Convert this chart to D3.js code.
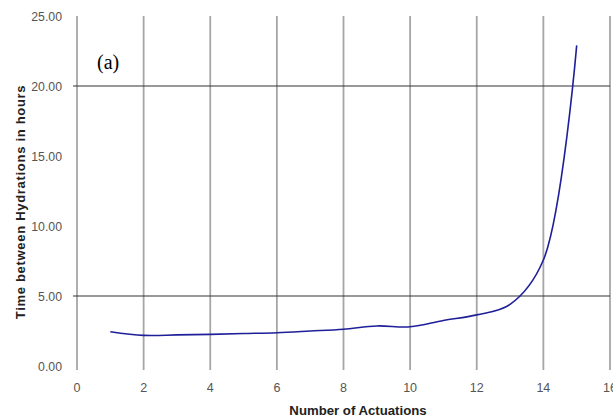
<!DOCTYPE html>
<html>
<head>
<meta charset="utf-8">
<script src="https://cdn.jsdelivr.net/npm/d3@7"></script>
<style>
  body { margin: 0; background: #fff; }
  svg { display: block; }
</style>
</head>
<body>
<div id="chart"></div>
<script>
const actuations = [1, 2, 3, 4, 5, 6, 7, 8, 9, 10, 11, 12, 13, 14, 15];
const hours = [2.45, 2.19, 2.22, 2.26, 2.32, 2.38, 2.5, 2.63, 2.86, 2.8, 3.25, 3.65, 4.4, 7.57, 22.9];
const xTicks = [0, 2, 4, 6, 8, 10, 12, 14, 16];
const yTicks = [0, 5, 10, 15, 20, 25];
const yGridValues = [5, 20];

const size = { width: 613, height: 418, left: 77, right: 610, top: 16, bottom: 366 };

const svg = d3.select("#chart")
    .append("svg")
    .attr("width", size.width)
    .attr("height", size.height);

const xScale = d3.scaleLinear()
    .domain([0, 16])
    .range([size.left, size.right]);

const yScale = d3.scaleLinear()
    .domain([0, 25])
    .range([size.bottom, size.top]);

// vertical grid lines, running a little below the axis like tick marks
svg.append("g")
    .selectAll("line")
    .data(xTicks)
    .join("line")
    .attr("x1", d => xScale(d))
    .attr("x2", d => xScale(d))
    .attr("y1", size.top)
    .attr("y2", size.bottom + 4)
    .attr("stroke", "#a6a6a6")
    .attr("stroke-width", 1.8);

// horizontal grid lines
svg.append("g")
    .selectAll("line")
    .data(yGridValues)
    .join("line")
    .attr("x1", size.left - 4)
    .attr("x2", size.right)
    .attr("y1", d => yScale(d))
    .attr("y2", d => yScale(d))
    .attr("stroke", "#333")
    .attr("stroke-width", 1.2);

// tick labels
svg.append("g")
    .selectAll("text")
    .data(yTicks)
    .join("text")
    .attr("x", 62)
    .attr("y", d => yScale(d) + 4.5)
    .attr("text-anchor", "end")
    .attr("font-family", "Liberation Sans, Arial, sans-serif")
    .attr("font-size", 12.3)
    .attr("fill", "#555")
    .text(d => d3.format(".2f")(d));

svg.append("g")
    .selectAll("text")
    .data(xTicks)
    .join("text")
    .attr("x", d => xScale(d))
    .attr("y", 392)
    .attr("text-anchor", "middle")
    .attr("font-family", "Liberation Sans, Arial, sans-serif")
    .attr("font-size", 12.5)
    .attr("fill", "#555")
    .text(d => d);

// axis titles
svg.append("text")
    .attr("x", 358)
    .attr("y", 415)
    .attr("text-anchor", "middle")
    .attr("font-family", "Liberation Sans, Arial, sans-serif")
    .attr("font-size", 13.2)
    .attr("font-weight", "bold")
    .attr("fill", "#222")
    .text("Number of Actuations");

svg.append("text")
    .attr("transform", "translate(25,202) rotate(-90)")
    .attr("text-anchor", "middle")
    .attr("font-family", "Liberation Sans, Arial, sans-serif")
    .attr("font-size", 13)
    .attr("font-weight", "bold")
    .attr("letter-spacing", 0.7)
    .attr("fill", "#222")
    .text("Time between Hydrations in hours");

svg.append("text")
    .attr("x", 97)
    .attr("y", 69)
    .attr("font-family", "Liberation Serif, Times New Roman, serif")
    .attr("font-size", 20)
    .attr("fill", "#000")
    .text("(a)");

// data line
const line = d3.line()
    .x(d => xScale(d[0]))
    .y(d => yScale(d[1]))
    .curve(d3.curveCatmullRom.alpha(0.5));

svg.append("path")
    .datum(actuations.map((a, i) => [a, hours[i]]))
    .attr("fill", "none")
    .attr("stroke", "#1f1f9a")
    .attr("stroke-width", 1.6)
    .attr("d", line);
</script>
</body>
</html>
